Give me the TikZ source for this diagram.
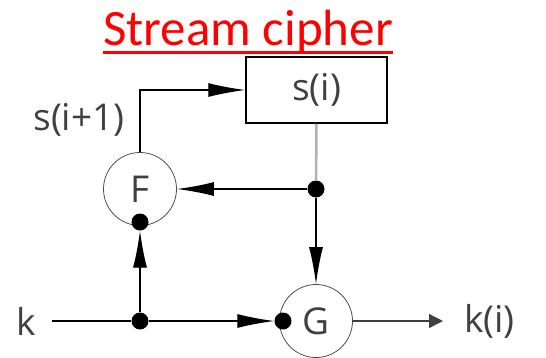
\documentclass[tikz,border=0pt]{standalone}
\usepackage{fontspec}
\usepackage{xcolor}
\newfontfamily\titlefont{Carlito}
\newfontfamily\labelfont{Open Sans}
\usetikzlibrary{arrows.meta,positioning}
\definecolor{txtgray}{HTML}{404040}
\begin{document}
\begin{tikzpicture}[
  x=1pt, y=-1pt,
  font=\labelfont\fontsize{37}{40}\selectfont,
  arr/.style={-{Latex[length=37pt,width=14pt]}, line width=1.3pt},
  outarr/.style={-{Triangle[length=14pt,width=14pt]}, line width=1.3pt, draw=txtgray},
  fun/.style={draw=black!70, circle, line width=0.8pt, minimum size=73pt, inner sep=0pt, text=txtgray},
  dot/.style={circle, fill=black, minimum size=17pt, inner sep=0pt},
  lbl/.style={text=txtgray, inner sep=2pt}
]
  \useasboundingbox (0,0) rectangle (546,357);
  \node[anchor=base, text=red, inner sep=0pt, font=\titlefont\fontsize{51}{56}\selectfont] (title) at (248,45) {Stream cipher};
  \draw[red, line width=3pt] ([yshift=-7pt]title.base west) -- ([yshift=-7pt]title.base east);
  \node[draw, line width=1.5pt, minimum width=141pt, minimum height=66pt, inner sep=0pt, text=txtgray] (state) at (316.5,90) {s(i)};
  \node[fun] (F) at (140,189) {F};
  \node[fun] (G) at (316,321) {G};
  \node[dot] (fdot) at (140,222) {};
  \node[dot] (split) at (316,189) {};
  \node[dot] (ksplit) at (140,321) {};
  \node[dot] (gdot) at (283,321) {};
  \node[lbl] (k) at (26,321) {k};
  \node[lbl, anchor=west] (kout) at (462,321) {k(i)};
  \node[lbl] (next) at (79,120) {s(i+1)};
  \coordinate (kin) at (52,321);
  \draw[arr] (F.north) |- (state.west);
  \draw[line width=2.5pt, black!30] (state.south) -- (split);
  \draw[arr] (split) -- (F.east);
  \draw[arr] (split) -- (G.north);
  \draw[line width=1.3pt] (kin) -- (ksplit);
  \draw[arr] (ksplit) -- (fdot);
  \draw[arr] (ksplit) -- (gdot);
  \draw[outarr, shorten >=19pt] (G.east) -- (kout.west);
\end{tikzpicture}
\end{document}
